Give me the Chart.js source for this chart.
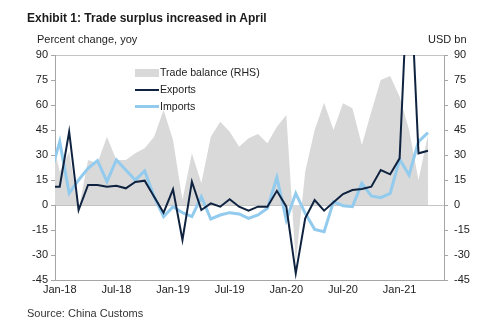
<!DOCTYPE html>
<html>
<head>
<meta charset="utf-8">
<script src="https://cdn.jsdelivr.net/npm/chart.js@4.4.1/dist/chart.umd.min.js"></script>
<style>
  html, body { margin: 0; padding: 0; background: #fff; }
  #wrap { position: relative; width: 500px; height: 323px; overflow: hidden; font-family: "Liberation Sans", Arial, sans-serif; color: #222; }
  #c { position: absolute; left: 0; top: 0; }
  .t { position: absolute; white-space: nowrap; line-height: 1; }
  #title { left: 27px; top: 12px; font-size: 12px; font-weight: bold; color: #1a1a1a; }
  #ylab { left: 37px; top: 34px; font-size: 11px; }
  #rlab { left: 428px; top: 34px; font-size: 11px; }
  #source { left: 27px; top: 308px; font-size: 11px; color: #333; }
  .leg { position: absolute; left: 160px; font-size: 10.6px; line-height: 1; white-space: nowrap; }
  .sw { position: absolute; left: 135px; }
</style>
</head>
<body>
<div id="wrap">
  <canvas id="c" width="500" height="323"></canvas>
  <div class="t" id="title">Exhibit 1: Trade surplus increased in April</div>
  <div class="t" id="ylab">Percent change, yoy</div>
  <div class="t" id="rlab">USD bn</div>
  <div class="t" id="source">Source: China Customs</div>
  <div class="sw" style="top:69px;width:24px;height:8px;background:#d9d9d9;"></div>
  <div class="leg" style="top:67px;">Trade balance (RHS)</div>
  <div class="sw" style="top:89px;width:24px;height:2px;background:#0f2340;"></div>
  <div class="leg" style="top:84px;">Exports</div>
  <div class="sw" style="top:105px;width:24px;height:3px;background:#92cbee;"></div>
  <div class="leg" style="top:101px;">Imports</div>
</div>
<script>
// Categories (monthly)
const months = ['Dec-17',
  'Jan-18','Feb-18','Mar-18','Apr-18','May-18','Jun-18','Jul-18','Aug-18','Sep-18','Oct-18','Nov-18','Dec-18',
  'Jan-19','Feb-19','Mar-19','Apr-19','May-19','Jun-19','Jul-19','Aug-19','Sep-19','Oct-19','Nov-19','Dec-19',
  'Jan-20','Feb-20','Mar-20','Apr-20','May-20','Jun-20','Jul-20','Aug-20','Sep-20','Oct-20','Nov-20','Dec-20',
  'Jan-21','Feb-21','Mar-21','Apr-21'];

// Exports, % yoy
const exportsYoy = [11,
  11, 44, -3, 12, 12, 11, 11.5, 10, 13.8, 14.6, 5, -4.6,
  9.4, -21, 14, -3, 1, -1, 3.4, -1, -3.4, -1, -1, 8.5,
  -1, -41, -8, 3, -3.4, 1.6, 6.6, 9, 9.6, 11, 21, 18.4,
  28, 154, 31, 32.6];

// Imports, % yoy
const importsYoy = [18,
  38, 7, 15, 22, 26.6, 14, 27, 21, 15, 20.4, 5, -7,
  -1, -4.6, -7, 5, -8.4, -6, -4.6, -5.4, -8, -6, -2, 16.5,
  -9, 7, -5, -14.6, -16, 2, -0.4, -1, 13, 5.4, 4.4, 7,
  27.4, 18, 38, 43.4];

// Trade balance, USD bn (RHS)
const tradeBalance = [45,
  20, 32, -3, 27, 25, 41, 27, 27, 31, 34, 41, 57,
  39, 3, 31, 13, 41, 50, 44, 35, 40, 42.6, 37, 47,
  54, -35, 20, 45, 61.4, 45, 61, 58, 36, 56, 75, 77.4,
  65, 45, 15, 42];

// Axis tick labels
const xTickLabels = ['Jan-18','Jul-18','Jan-19','Jul-19','Jan-20','Jul-20','Jan-21'];
const yMin = -45, yMax = 90, yStep = 15;

const toPts = arr => arr.map((v, i) => ({ x: i - 1, y: v }));
const AXIS = '#a6a6a6';
const FONT = { family: '"Liberation Sans", Arial, sans-serif', size: 11 };

new Chart(document.getElementById('c'), {
  type: 'line',
  data: {
    datasets: [
      { label: 'Exports', data: toPts(exportsYoy), yAxisID: 'y', borderColor: '#0f2340', borderWidth: 2,
        pointRadius: 0, tension: 0, fill: false, order: 0, clip: 0 },
      { label: 'Imports', data: toPts(importsYoy), yAxisID: 'y', borderColor: '#92cbee', borderWidth: 3,
        pointRadius: 0, tension: 0, fill: false, order: 1, clip: 0 },
      { label: 'Trade balance (RHS)', data: toPts(tradeBalance), yAxisID: 'y2', borderColor: '#d9d9d9', borderWidth: 0,
        backgroundColor: '#d9d9d9', pointRadius: 0, tension: 0, fill: 'origin', order: 2, clip: 0 }
    ]
  },
  options: {
    responsive: false,
    animation: false,
    events: [],
    layout: { padding: { top: 55, left: 0, right: 0, bottom: 0 } },
    plugins: { legend: { display: false }, tooltip: { enabled: false }, title: { display: false } },
    scales: {
      x: {
        type: 'linear', min: -0.5, max: 40.7,
        afterBuildTicks: s => { s.ticks = xTickLabels.map(l => ({ value: months.indexOf(l) - 1 })); },
        afterFit: s => { s.height = 43; },
        grid: { display: false, drawTicks: false },
        border: { display: true, color: AXIS, width: 1 },
        ticks: { autoSkip: false, maxRotation: 0, padding: 3, color: '#222', font: FONT,
                 callback: v => months[v + 1] }
      },
      y: {
        position: 'left', min: yMin, max: yMax,
        afterFit: s => { s.width = 55; },
        grid: { drawOnChartArea: true, drawTicks: true, tickLength: 4, tickColor: AXIS,
                color: c => (c.tick && (c.tick.value === 0 || c.tick.value === yMax)) ? '#c4c4c4' : 'rgba(0,0,0,0)' },
        border: { display: true, color: AXIS, width: 1 },
        ticks: { stepSize: yStep, padding: 3, color: '#222', font: FONT }
      },
      y2: {
        position: 'right', min: yMin, max: yMax,
        afterFit: s => { s.width = 56; },
        grid: { drawOnChartArea: false, drawTicks: true, tickLength: 4, tickColor: AXIS },
        border: { display: true, color: AXIS, width: 1 },
        ticks: { stepSize: yStep, padding: 6, color: '#222', font: FONT }
      }
    }
  }
});
</script>
</body>
</html>
